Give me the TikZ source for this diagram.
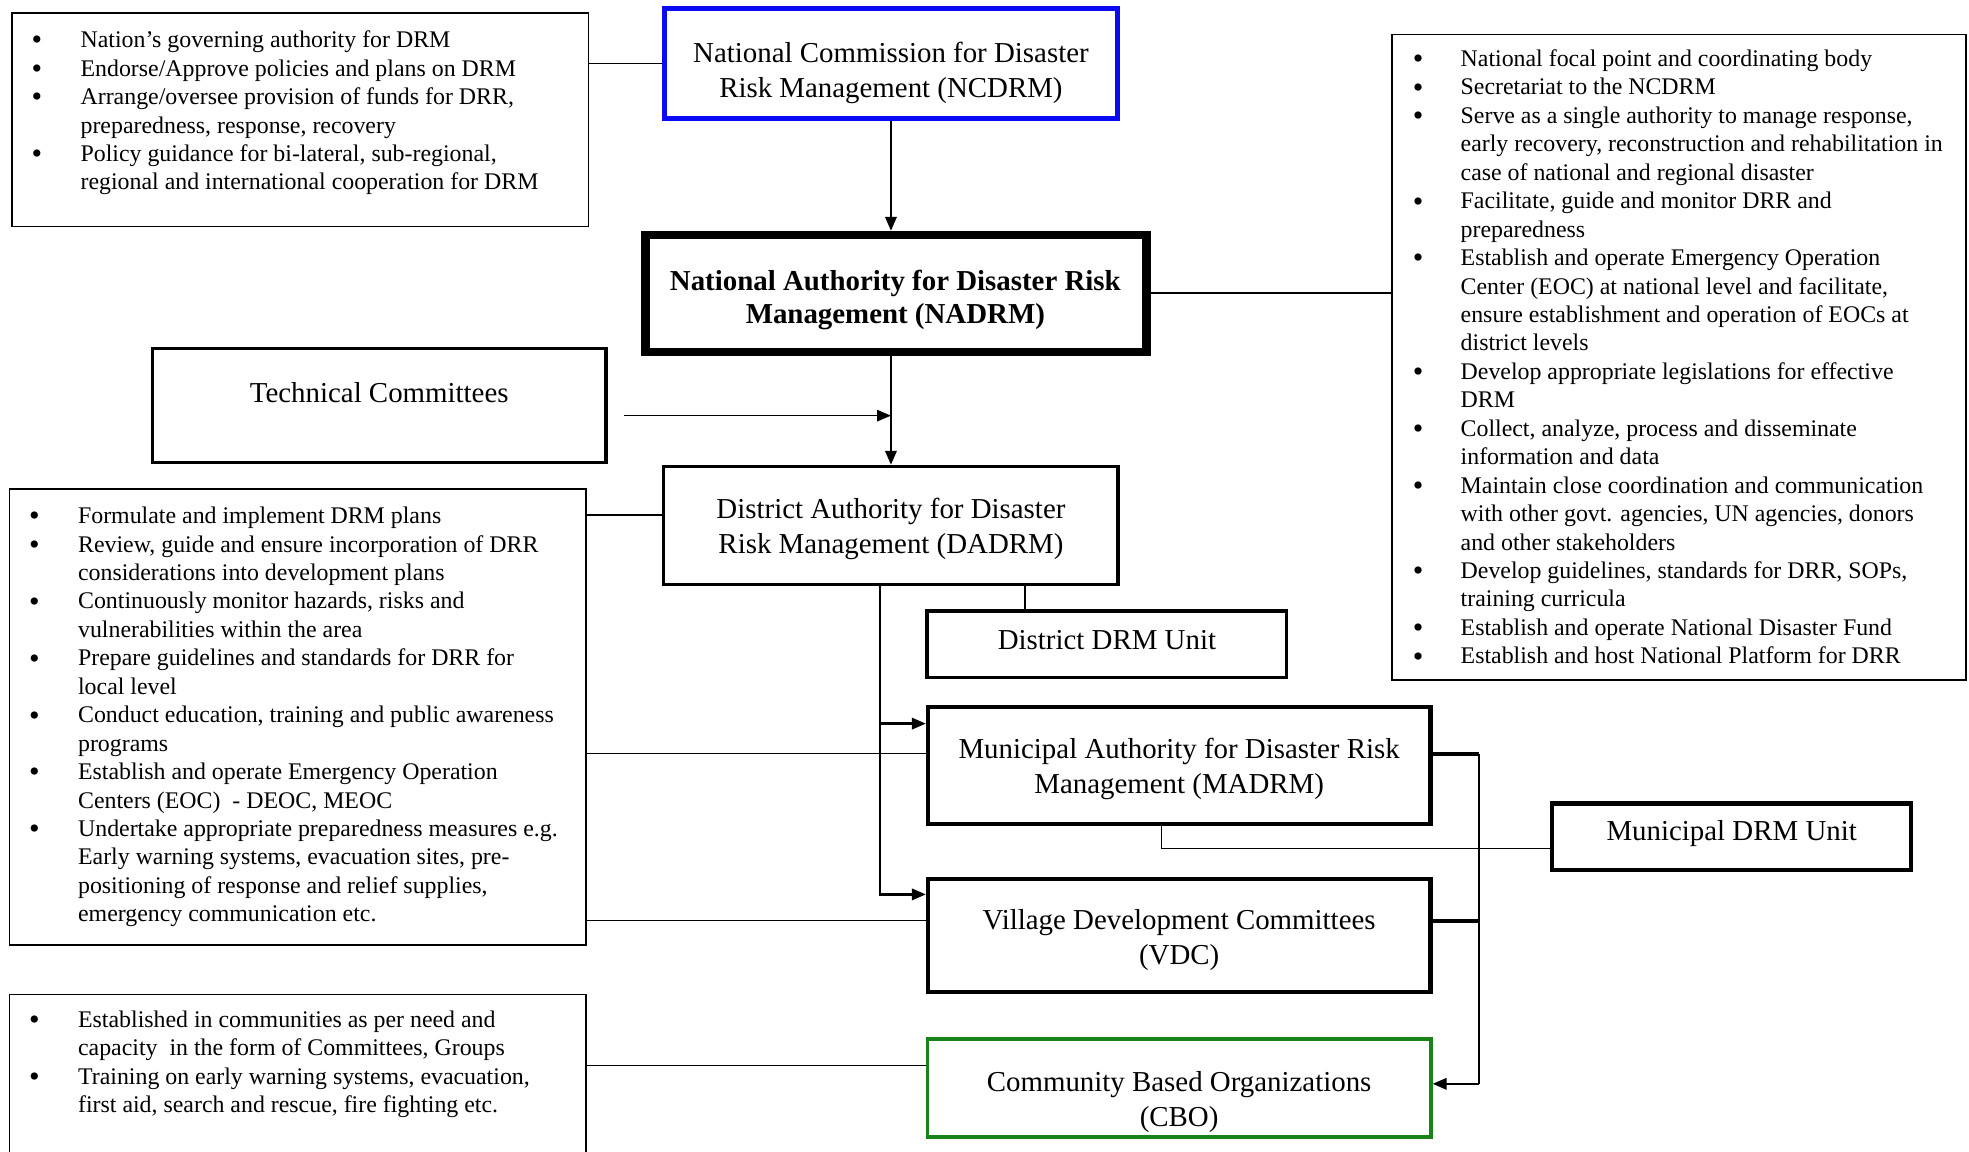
\documentclass[tikz,border=0pt]{standalone}
\usepackage{fontspec}
\setmainfont{Liberation Serif}
\usetikzlibrary{arrows.meta}
\definecolor{ncblue}{RGB}{10,10,245}
\definecolor{cbogreen}{RGB}{25,130,25}
\newcommand{\bul}{\raisebox{-1.8pt}{\fontsize{24}{22}\selectfont\textbullet}}
\begin{document}
\begin{tikzpicture}[x=1pt,y=-1pt,
  box/.style={draw, rectangle, inner sep=0pt},
  bulletbox/.style={box, line width=1.2pt},
  lbl/.style={inner sep=0pt, align=center, font=\fontsize{23}{28}\selectfont},
  btext/.style={inner sep=0pt, anchor=base west, font=\fontsize{19}{22.65}\selectfont},
  conn/.style={line width=1.3pt},
  arr/.style={line width=1.8pt, -{Triangle[length=11pt,width=9pt]}},
]
\useasboundingbox (0,0) rectangle (1568,917);
\clip (0,0) rectangle (1568,917);

% ---------- boxes ----------
\node[bulletbox, minimum width=459pt, minimum height=170pt] (nb) at (239,95.5) {};
\node[box, draw=ncblue, line width=4pt, minimum width=361pt, minimum height=87pt] (ncdrm) at (709.5,50.5) {};
\node[box, line width=6.5pt, minimum width=399pt, minimum height=93pt] (nadrm) at (713.5,233.5) {};
\node[bulletbox, minimum width=457pt, minimum height=514pt] (rb) at (1337,284.5) {};
\node[box, line width=2.8pt, minimum width=361pt, minimum height=91pt] (tc) at (302,323) {};
\node[box, line width=2.8pt, minimum width=362pt, minimum height=94pt] (dadrm) at (709.5,418.5) {};
\node[bulletbox, minimum width=459pt, minimum height=363pt] (lb) at (237,571) {};
\node[box, line width=3pt, minimum width=286pt, minimum height=53pt] (ddu) at (881.5,513) {};
\node[box, line width=3.5pt, minimum width=400pt, minimum height=93pt] (madrm) at (939,609.5) {};
\node[box, line width=3.5pt, minimum width=286pt, minimum height=53pt] (mdu) at (1379,666.5) {};
\node[box, line width=3.5pt, minimum width=400pt, minimum height=90pt] (vdc) at (939,745) {};
\node[box, draw=cbogreen, line width=2.8pt, minimum width=401pt, minimum height=78pt] (cbo) at (939,866.5) {};
\node[bulletbox, minimum width=459pt, minimum height=138pt] (cb) at (237,861) {};

% ---------- box texts ----------
\node[lbl] (t-ncdrm) at (709.5,58) {National Commission for Disaster\\Risk Management (NCDRM)};
\node[lbl, font=\fontsize{23}{26}\selectfont\bfseries] (t-nadrm) at (713,239) {National Authority for Disaster Risk\\Management (NADRM)};
\node[lbl] (t-tc) at (302,313) {Technical Committees};
\node[lbl] (t-dadrm) at (709.5,421) {District Authority for Disaster\\Risk Management (DADRM)};
\node[lbl] (t-ddu) at (881.5,510) {District DRM Unit};
\node[lbl] (t-madrm) at (939,612.5) {Municipal Authority for Disaster Risk\\Management (MADRM)};
\node[lbl] (t-mdu) at (1379,664) {Municipal DRM Unit};
\node[lbl] (t-vdc) at (939,748.5) {Village Development Committees\\(VDC)};
\node[lbl] (t-cbo) at (939,877.5) {Community Based Organizations\\(CBO)};

% ---------- bullet texts ----------
\node[btext] (t-nb) at (25,38) {\begin{tabular}[t]{@{}p{39pt}@{}l@{}}
\bul & Nation’s governing authority for DRM\\
\bul & Endorse/Approve policies and plans on DRM\\
\bul & Arrange/oversee provision of funds for DRR,\\
 & preparedness, response, recovery\\
\bul & Policy guidance for bi-lateral, sub-regional,\\
 & regional and international cooperation for DRM\\
\end{tabular}};

\node[btext] (t-rb) at (1125,53) {\begin{tabular}[t]{@{}p{38pt}@{}l@{}}
\bul & National focal point and coordinating body\\
\bul & Secretariat to the NCDRM\\
\bul & Serve as a single authority to manage response,\\
 & early recovery, reconstruction and rehabilitation in\\
 & case of national and regional disaster\\
\bul & Facilitate, guide and monitor DRR and\\
 & preparedness\\
\bul & Establish and operate Emergency Operation\\
 & Center (EOC) at national level and facilitate,\\
 & ensure establishment and operation of EOCs at\\
 & district levels\\
\bul & Develop appropriate legislations for effective\\
 & DRM\\
\bul & Collect, analyze, process and disseminate\\
 & information and data\\
\bul & Maintain close coordination and communication\\
 & with other govt. agencies, UN agencies, donors\\
 & and other stakeholders\\
\bul & Develop guidelines, standards for DRR, SOPs,\\
 & training curricula\\
\bul & Establish and operate National Disaster Fund\\
\bul & Establish and host National Platform for DRR\\
\end{tabular}};

\node[btext] (t-lb) at (23,417) {\begin{tabular}[t]{@{}p{39pt}@{}l@{}}
\bul & Formulate and implement DRM plans\\
\bul & Review, guide and ensure incorporation of DRR\\
 & considerations into development plans\\
\bul & Continuously monitor hazards, risks and\\
 & vulnerabilities within the area\\
\bul & Prepare guidelines and standards for DRR for\\
 & local level\\
\bul & Conduct education, training and public awareness\\
 & programs\\
\bul & Establish and operate Emergency Operation\\
 & Centers (EOC) \ - DEOC, MEOC\\
\bul & Undertake appropriate preparedness measures e.g.\\
 & Early warning systems, evacuation sites, pre-\\
 & positioning of response and relief supplies,\\
 & emergency communication etc.\\
\end{tabular}};

\node[btext] (t-cb) at (23,818) {\begin{tabular}[t]{@{}p{39pt}@{}l@{}}
\bul & Established in communities as per need and\\
 & capacity \ in the form of Committees, Groups\\
\bul & Training on early warning systems, evacuation,\\
 & first aid, search and rescue, fire fighting etc.\\
\end{tabular}};

% ---------- connectors ----------
\draw[conn] (ncdrm.west -| nb.east) -- (ncdrm.west);
\draw[arr] (ncdrm.south) -- (ncdrm.south |- nadrm.north);
\draw[conn] (nadrm.east) -- (nadrm.east -| rb.west);
\draw[arr] (dadrm.north |- nadrm.south) -- (dadrm.north);
\coordinate (tcs) at (497,331);
\draw[arr, line width=1.3pt] (tcs) -- (tcs -| dadrm.north);

\path (lb.north east) ++(0,21) coordinate (l1);
\draw[conn] (l1) -- (l1 -| dadrm.west);
\path (lb.north east) ++(0,211) coordinate (l2);
\draw[conn] (l2) -- (l2 -| madrm.west);
\path (lb.north east) ++(0,344) coordinate (l3);
\draw[conn] (l3) -- (l3 -| vdc.west);
\path (cb.north east) ++(0,57) coordinate (l4);
\draw[conn] (l4) -- (l4 -| cbo.west);

\path (dadrm.south) ++(106.5,0) coordinate (d1);
\draw[conn] (d1) -- (d1 |- ddu.north);
\path (dadrm.south) ++(-8.5,0) coordinate (d2);
\path (madrm.north west) ++(0,15) coordinate (m1);
\path (vdc.north west) ++(0,14) coordinate (v1);
\draw[arr] (d2) |- (v1);
\draw[arr] (d2 |- m1) -- (m1);

\path (madrm.south) ++(-14,0) coordinate (m2);
\path (mdu.south west) ++(0,-19) coordinate (m3);
\draw[conn] (m2) |- (m3);

\path (madrm.north east) ++(37,39) coordinate (r1);
\path (cbo.north east) ++(0,37) coordinate (c1);
\path (vdc.north east) ++(0,35) coordinate (v2);
\draw[conn, line width=1.8pt] (r1) -- (r1 |- c1);
\draw[line width=3pt] (r1 -| madrm.east) -- (r1);
\draw[line width=3pt] (v2) -- (v2 -| r1);
\draw[arr] (r1 |- c1) -- (c1);
\end{tikzpicture}
\end{document}
